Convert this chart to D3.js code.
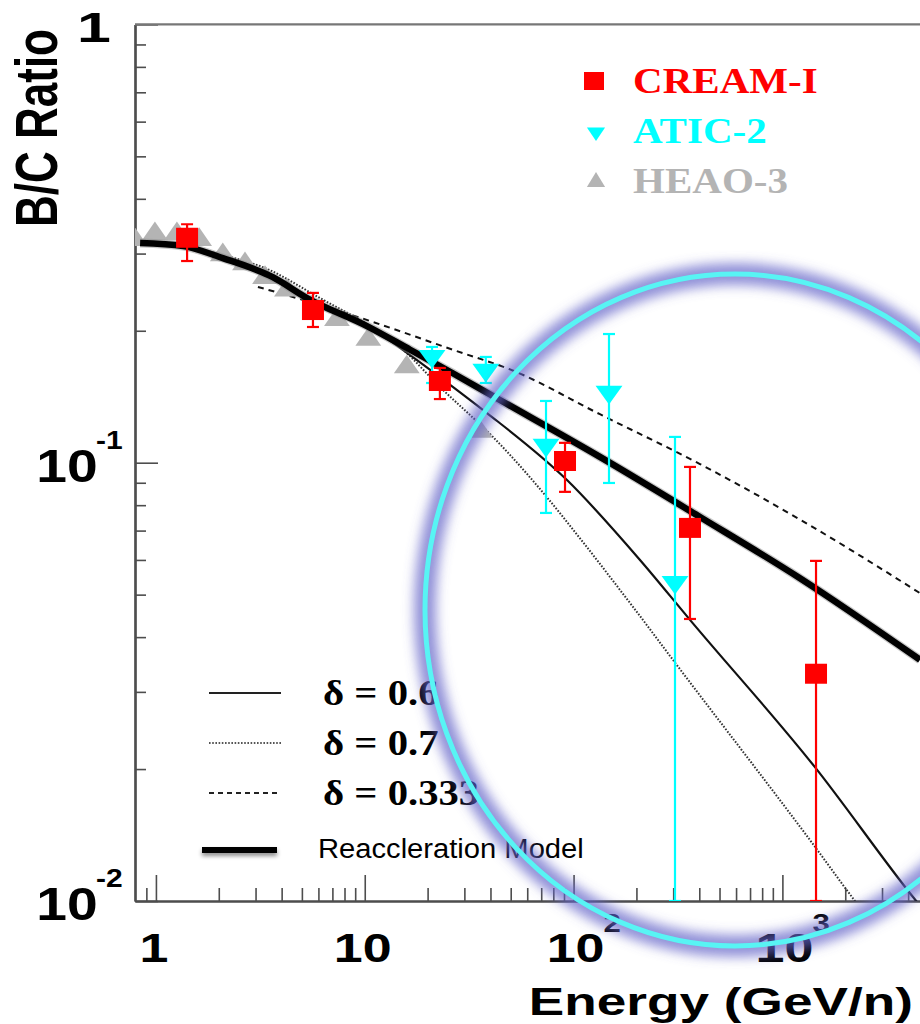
<!DOCTYPE html>
<html>
<head>
<meta charset="utf-8">
<script src="https://cdn.jsdelivr.net/npm/d3@7"></script>
<style>
  html, body { margin: 0; padding: 0; background: #fff; }
  svg { display: block; }
</style>
</head>
<body>
<svg id="chart" width="920" height="1024"></svg>
<script>
// B/C ratio vs energy per nucleon

const heaoE = [0.793, 0.989, 1.26, 1.61, 2.09, 2.67, 3.33, 4.24, 7.36, 10.4, 15.9, 35.6];
const heaoBC = [0.326, 0.336, 0.336, 0.326, 0.301, 0.287, 0.267, 0.250, 0.214, 0.193, 0.167, 0.119];

const creamE = [1.41, 5.65, 22.9, 91, 361, 1449];
const creamBC = [0.326, 0.223, 0.1536, 0.1009, 0.0710, 0.0330];
const creamHi = [0.350, 0.244, 0.1645, 0.111, 0.0978, 0.0597];
const creamLo = [0.2885, 0.204, 0.1397, 0.0858, 0.0440, 0.01];

const aticE = [21.0, 38.0, 73.8, 147.8, 306];
const aticBC = [0.175, 0.1627, 0.1097, 0.145, 0.0534];
const aticHi = [0.1837, 0.1743, 0.1383, 0.1966, 0.1145];
const aticLo = [0.1520, 0.1520, 0.0768, 0.0899, 0.01];

const modelE = [0.84, 1.35, 2.09, 3.63, 5.29, 10.25, 16.5, 26.4, 44.4, 133.7, 403, 1214, 4560];
const modelBC = [0.317, 0.312, 0.293, 0.265, 0.2375, 0.2050, 0.181, 0.160, 0.139, 0.1031, 0.0752, 0.0545, 0.0355];

const d06E = [0.84, 1.35, 2.09, 3.63, 5.29, 10.25, 13.2, 16.5, 26.4, 38.5, 93, 208, 361, 1432, 4222, 5093];
const d06BC = [0.317, 0.312, 0.293, 0.265, 0.2375, 0.2050, 0.190, 0.176, 0.149, 0.1298, 0.0913, 0.060, 0.0438, 0.0202, 0.01021, 0.00914];

const d07E = [0.84, 1.35, 2.09, 3.33, 6.10, 10.25, 14.75, 22.9, 41.1, 192.5, 299, 1432, 2228, 2627];
const d07BC = [0.317, 0.312, 0.2978, 0.278, 0.2375, 0.2070, 0.1836, 0.1489, 0.1145, 0.0469, 0.0355, 0.0133, 0.0100, 0.00905];

const d0333E = [3.08, 4.53, 10.95, 26.4, 51.5, 133.7, 403, 1214, 4560];
const d0333BC = [0.2518, 0.2388, 0.2094, 0.1810, 0.1621, 0.1290, 0.0993, 0.0742, 0.0504];

const legendTop = ['CREAM-I', 'ATIC-2', 'HEAO-3'];
const legendCurves = ['δ = 0.6', 'δ = 0.7', 'δ = 0.333', 'Reaccleration Model'];
const xMajor = [1, 10, 100, 1000];
const yMajor = [1, 0.1, 0.01];

const RED = '#ff0000';
const CYAN = '#00ffff';
const GRAY = '#b4b4b4';
const AXIS = '#4d4d4d';
const SANS = '"Liberation Sans", Arial, Helvetica, sans-serif';
const SERIF = '"Liberation Serif", "Times New Roman", serif';

const svg = d3.select('#chart');

const x = d3.scaleLog().domain([0.794, 5623]).range([135, 939]);
const y = d3.scaleLog().domain([0.01, 1]).range([901, 24.4]);
const [plotLeft, plotRight] = x.range();
const [plotBottom, plotTop] = y.range();

const defs = svg.append('defs');
defs.append('clipPath').attr('id', 'plot-clip')
  .append('rect').attr('x', plotLeft).attr('y', plotTop)
  .attr('width', plotRight - plotLeft).attr('height', plotBottom - plotTop);
defs.append('filter').attr('id', 'glow').attr('x', '-20%').attr('y', '-20%').attr('width', '140%').attr('height', '140%')
  .append('feGaussianBlur').attr('stdDeviation', 6);
const shadow = defs.append('filter').attr('id', 'shadow')
  .attr('filterUnits', 'userSpaceOnUse')
  .attr('x', 0).attr('y', 0).attr('width', 920).attr('height', 1024);
shadow.append('feDropShadow').attr('dx', 0).attr('dy', 3).attr('stdDeviation', 2)
  .attr('flood-color', '#000').attr('flood-opacity', 0.45);

// axes: ticks point inward
function minorTicks(lo, hi) {
  const out = [];
  for (let e = lo; e <= hi; e++) {
    for (let m = 2; m <= 9; m++) out.push(m * Math.pow(10, e));
  }
  return out;
}
const xMinor = [0.9].concat(minorTicks(0, 3));
const yMinor = minorTicks(-2, -1);

function styleAxis(g) {
  g.selectAll('path, line').attr('stroke', AXIS).attr('stroke-width', 1.6);
  g.select('.domain').attr('stroke-width', 2.2);
  g.selectAll('text').remove();
}

svg.append('g').attr('transform', `translate(0,${plotBottom})`)
  .call(d3.axisBottom(x).tickValues(xMinor).tickSize(-13).tickSizeOuter(0).tickFormat(''))
  .call(styleAxis);
svg.append('g').attr('transform', `translate(0,${plotBottom})`)
  .call(d3.axisBottom(x).tickValues(xMajor).tickSize(-26).tickSizeOuter(0).tickFormat(''))
  .call(styleAxis);
svg.append('g').attr('transform', `translate(${plotLeft},0)`)
  .call(d3.axisLeft(y).tickValues(yMinor).tickSize(-11).tickSizeOuter(0).tickFormat(''))
  .call(styleAxis);
svg.append('g').attr('transform', `translate(${plotLeft},0)`)
  .call(d3.axisLeft(y).tickValues(yMajor).tickSize(-23).tickSizeOuter(0).tickFormat(''))
  .call(styleAxis);
svg.append('line').attr('x1', plotLeft).attr('x2', plotRight).attr('y1', plotTop).attr('y2', plotTop)
  .attr('stroke', '#777').attr('stroke-width', 2.2);

// tick labels
function stretched(parent, tx, ty, sx, txt, opts) {
  return parent.append('text')
    .attr('transform', `translate(${tx},${ty}) scale(${sx},1)`)
    .attr('text-anchor', opts.anchor || 'start')
    .attr('font-family', opts.family || SANS)
    .attr('font-weight', opts.weight || 'bold')
    .attr('font-size', opts.size)
    .attr('fill', opts.fill || '#000')
    .text(txt);
}
const labels = svg.append('g');
xMajor.forEach(v => {
  const e = Math.round(Math.log10(v));
  const cx = x(v);
  if (e < 2) {
    stretched(labels, cx - 2, 962, 1.3, String(v), { anchor: 'middle', size: 40 });
  } else {
    stretched(labels, cx + 2, 962, 1.3, '10', { anchor: 'middle', size: 40 });
    stretched(labels, cx + 30, 932, 1.2, String(e), { anchor: 'start', size: 26 });
  }
});
yMajor.forEach(v => {
  const e = Math.round(Math.log10(v));
  const cy = y(v);
  if (e === 0) {
    stretched(labels, 94, cy + 18, 1.45, '1', { anchor: 'middle', size: 42 });
  } else {
    stretched(labels, 67, cy + 19, 1.2, '10', { anchor: 'middle', size: 46 });
    stretched(labels, 96, cy - 14, 1.2, String(e), { anchor: 'start', size: 25 });
  }
});

// axis titles
svg.append('text')
  .attr('transform', 'translate(57,128) scale(1.35,1) rotate(-90)')
  .attr('text-anchor', 'middle')
  .attr('font-family', SANS).attr('font-weight', 'bold').attr('font-size', 44)
  .text('B/C Ratio');
stretched(svg, 913, 1015, 1.4, 'Energy (GeV/n)', { anchor: 'end', size: 38 });

// model curves
const plot = svg.append('g').attr('clip-path', 'url(#plot-clip)');
const line = d3.line().x(d => x(d[0])).y(d => y(d[1])).curve(d3.curveMonotoneX);
const zip = (a, b) => a.map((v, i) => [v, b[i]]);

plot.append('path').datum(zip(d07E, d07BC)).attr('d', line)
  .attr('fill', 'none').attr('stroke', '#333').attr('stroke-width', 2).attr('stroke-dasharray', '1.6,1.6');
plot.append('path').datum(zip(d06E, d06BC)).attr('d', line)
  .attr('fill', 'none').attr('stroke', '#111').attr('stroke-width', 2.2);
plot.append('path').datum(zip(d0333E, d0333BC)).attr('d', line)
  .attr('fill', 'none').attr('stroke', '#111').attr('stroke-width', 2).attr('stroke-dasharray', '6,5');

// HEAO-3
const triUp = d3.symbol().type(d3.symbolTriangle).size(200);
plot.selectAll('.heao').data(zip(heaoE, heaoBC)).join('path')
  .attr('class', 'heao')
  .attr('transform', d => `translate(${x(d[0])},${y(d[1]) + 2}) scale(1.2,1)`)
  .attr('d', triUp).attr('fill', GRAY);

// reacceleration model
plot.append('path').datum(zip(modelE, modelBC)).attr('d', line)
  .attr('fill', 'none').attr('stroke', '#888').attr('stroke-width', 9).attr('stroke-opacity', 0.45);
plot.append('path').datum(zip(modelE, modelBC)).attr('d', line)
  .attr('fill', 'none').attr('stroke', '#000').attr('stroke-width', 6.5);

// error bars
function errorBars(E, hi, lo, color, cap) {
  const g = plot.append('g').attr('stroke', color).attr('stroke-width', 2.2);
  E.forEach((e, i) => {
    const cx = x(e);
    g.append('line').attr('x1', cx).attr('x2', cx).attr('y1', y(hi[i])).attr('y2', y(lo[i]));
    [hi[i], lo[i]].forEach(v => {
      g.append('line').attr('x1', cx - cap).attr('x2', cx + cap).attr('y1', y(v)).attr('y2', y(v));
    });
  });
}

// ATIC-2
errorBars(aticE, aticHi, aticLo, CYAN, 6);
const triDown = d3.symbol().type(d3.symbolTriangle).size(200);
plot.selectAll('.atic').data(zip(aticE, aticBC)).join('path')
  .attr('class', 'atic')
  .attr('transform', d => `translate(${x(d[0])},${y(d[1])}) scale(1.25,-1)`)
  .attr('d', triDown).attr('fill', CYAN);

// CREAM-I
errorBars(creamE, creamHi, creamLo, RED, 6);
plot.selectAll('.cream').data(zip(creamE, creamBC)).join('rect')
  .attr('class', 'cream')
  .attr('x', d => x(d[0]) - 11).attr('y', d => y(d[1]) - 10)
  .attr('width', 22).attr('height', 20).attr('fill', RED);

// top-right legend
const legTop = svg.append('g');
const legColors = [RED, CYAN, GRAY];
legendTop.forEach((name, i) => {
  const cy = 81 + i * 50;
  if (i === 0) {
    legTop.append('rect').attr('x', 584).attr('y', cy - 9).attr('width', 20).attr('height', 18).attr('fill', RED);
  } else {
    legTop.append('path')
      .attr('transform', `translate(596,${cy + 1}) scale(1.05,${i === 1 ? -0.9 : 1})`)
      .attr('d', d3.symbol().type(d3.symbolTriangle).size(130)).attr('fill', legColors[i]);
  }
  stretched(legTop, 633, cy + 12, 1.14, name, { family: SERIF, size: 36, fill: legColors[i] });
});

// bottom-left legend
const legBot = svg.append('g');
const legStyles = [
  { w: 2, dash: null, color: '#222' },
  { w: 2, dash: '1.6,1.6', color: '#555' },
  { w: 2, dash: '5,4', color: '#222' },
  { w: 6, dash: null, color: '#000' }
];
legendCurves.forEach((name, i) => {
  const st = legStyles[i];
  const cy = i < 3 ? 693 + i * 50 : 850;
  const seg = legBot.append('line')
    .attr('x1', i < 3 ? 209 : 202).attr('x2', i < 3 ? 281 : 277)
    .attr('y1', cy).attr('y2', cy)
    .attr('stroke', st.color).attr('stroke-width', st.w);
  if (st.dash) seg.attr('stroke-dasharray', st.dash);
  if (i === 3) {
    seg.attr('filter', 'url(#shadow)');
    stretched(legBot, 318, cy + 8, 1.08, name, { weight: 'normal', size: 27 });
  } else {
    stretched(legBot, 323, cy + 12, 1.13, name, { family: SERIF, size: 36 });
  }
});

// highlight ellipse
const ring = { cx: 735, cy: 610, rx: 310, ry: 336 };
svg.append('ellipse').attr('cx', ring.cx).attr('cy', ring.cy).attr('rx', ring.rx).attr('ry', ring.ry)
  .attr('fill', 'none').attr('stroke', '#6262c8').attr('stroke-opacity', 0.7)
  .attr('stroke-width', 22).attr('filter', 'url(#glow)');
svg.append('ellipse').attr('cx', ring.cx).attr('cy', ring.cy).attr('rx', ring.rx).attr('ry', ring.ry)
  .attr('fill', 'none').attr('stroke', '#58f4f4').attr('stroke-width', 5);
</script>
</body>
</html>
